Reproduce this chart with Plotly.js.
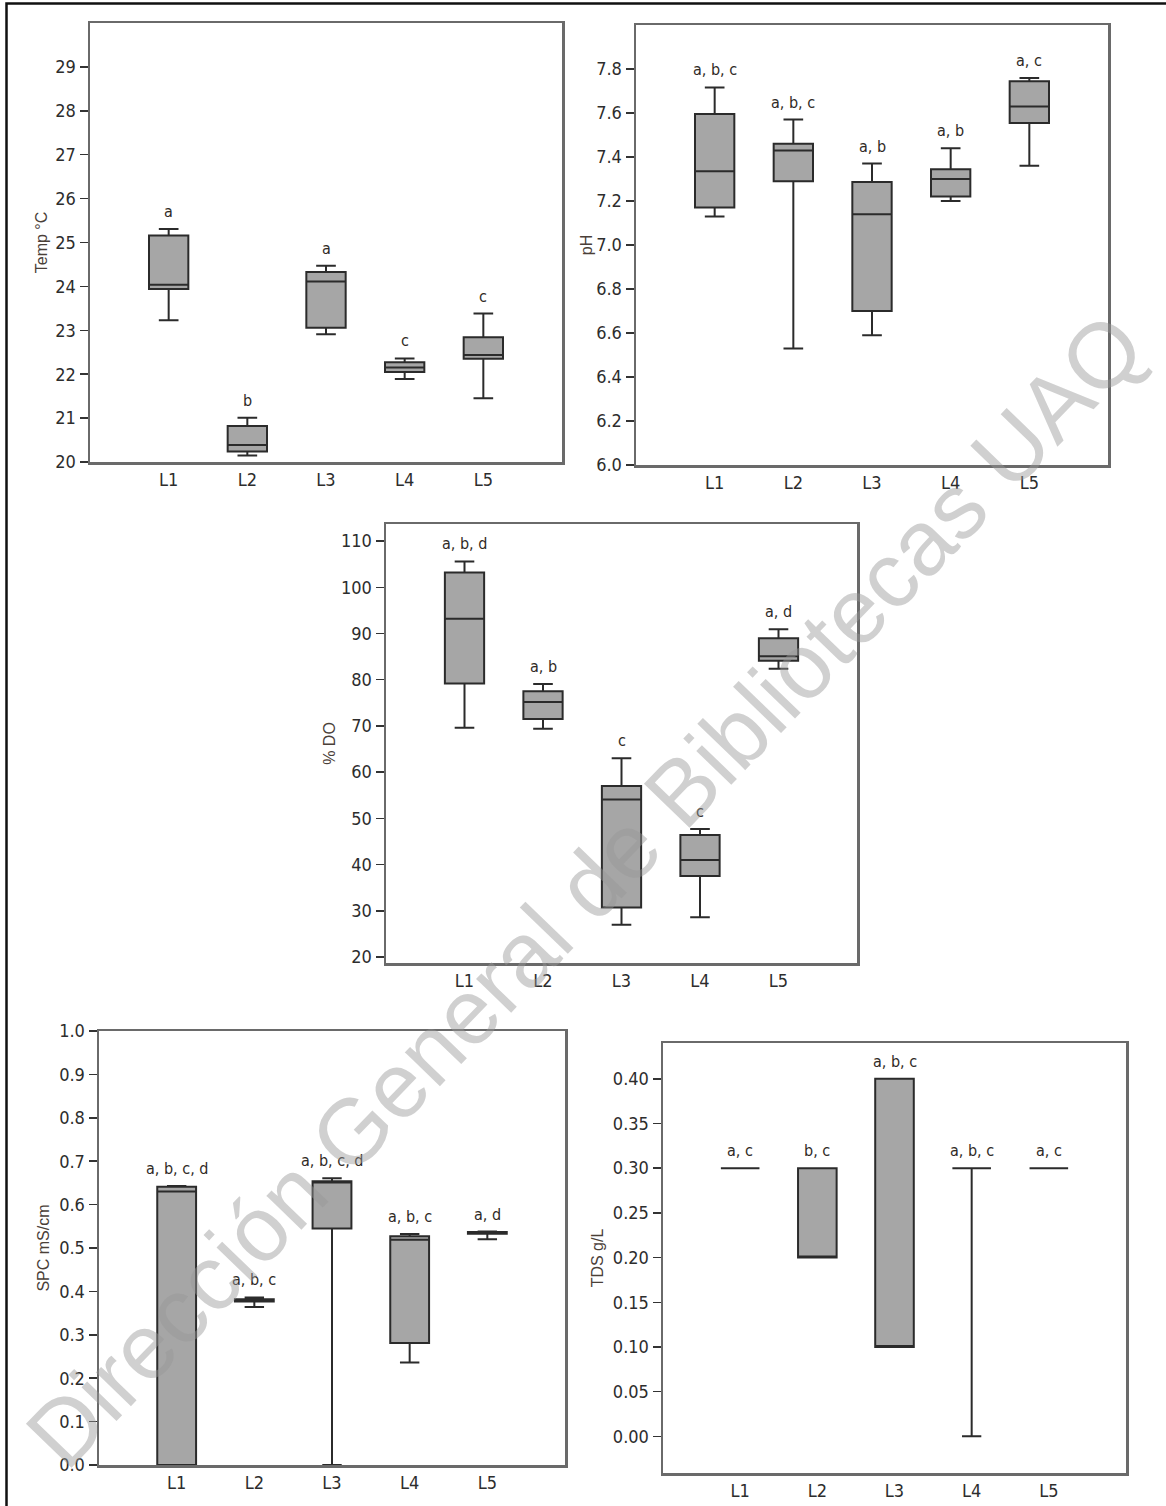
<!DOCTYPE html>
<html>
<head>
<meta charset="utf-8">
<script src="https://cdn.plot.ly/plotly-3.0.1.min.js"></script>
<style>html,body{margin:0;padding:0;background:#fff;}#chart{width:1166px;height:1506px;}</style>
</head>
<body>
<div id="chart"></div>
<script>
// ---- data ----
const cats = ['L1', 'L2', 'L3', 'L4', 'L5'];

const tempLo  = [23.23, 20.15, 22.91, 21.89, 21.45];
const tempQ1  = [23.94, 20.24, 23.06, 22.05, 22.35];
const tempMed = [24.04, 20.39, 24.11, 22.15, 22.44];
const tempQ3  = [25.16, 20.82, 24.33, 22.27, 22.84];
const tempHi  = [25.31, 21.01, 24.47, 22.36, 23.38];
const tempLetters = ['a', 'b', 'a', 'c', 'c'];
const tempTicks = [20, 21, 22, 23, 24, 25, 26, 27, 28, 29];

const phLo  = [7.13, 6.53, 6.59, 7.20, 7.36];
const phQ1  = [7.17, 7.29, 6.70, 7.22, 7.555];
const phMed = [7.335, 7.43, 7.14, 7.30, 7.63];
const phQ3  = [7.595, 7.46, 7.286, 7.344, 7.744];
const phHi  = [7.716, 7.57, 7.37, 7.44, 7.759];
const phLetters = ['a, b, c', 'a, b, c', 'a, b', 'a, b', 'a, c'];
const phTicks = [6.0, 6.2, 6.4, 6.6, 6.8, 7.0, 7.2, 7.4, 7.6, 7.8];

const doLo  = [69.6, 69.4, 27.0, 28.6, 82.4];
const doQ1  = [79.2, 71.5, 30.7, 37.5, 84.1];
const doMed = [93.2, 75.2, 54.1, 41.0, 85.1];
const doQ3  = [103.2, 77.5, 57.0, 46.4, 89.0];
const doHi  = [105.6, 79.1, 63.0, 47.7, 90.9];
const doLetters = ['a, b, d', 'a, b', 'c', 'c', 'a, d'];
const doTicks = [20, 30, 40, 50, 60, 70, 80, 90, 100, 110];

const spcLo  = [0.0, 0.364, 0.0, 0.236, 0.52];
const spcQ1  = [0.0, 0.377, 0.545, 0.281, 0.533];
const spcMed = [0.63, 0.380, 0.651, 0.519, 0.535];
const spcQ3  = [0.641, 0.382, 0.654, 0.527, 0.537];
const spcHi  = [0.643, 0.386, 0.661, 0.532, 0.538];
const spcLetters = ['a, b, c, d', 'a, b, c', 'a, b, c, d', 'a, b, c', 'a, d'];
const spcTicks = [0.0, 0.1, 0.2, 0.3, 0.4, 0.5, 0.6, 0.7, 0.8, 0.9, 1.0];

const tdsLo  = [0.30, 0.20, 0.10, 0.00, 0.30];
const tdsQ1  = [0.30, 0.20, 0.10, 0.30, 0.30];
const tdsMed = [0.30, 0.20, 0.10, 0.30, 0.30];
const tdsQ3  = [0.30, 0.30, 0.40, 0.30, 0.30];
const tdsHi  = [0.30, 0.30, 0.40, 0.30, 0.30];
const tdsLetters = ['a, c', 'b, c', 'a, b, c', 'a, b, c', 'a, c'];
const tdsTicks = [0.00, 0.05, 0.10, 0.15, 0.20, 0.25, 0.30, 0.35, 0.40];

const watermark = 'Dirección General de Bibliotecas UAQ';

// ---- layout helpers ----
const W = 1166, H = 1506;
const NARROW = '"Liberation Sans Narrow", "DejaVu Sans Condensed", "Liberation Sans", Arial, sans-serif';
const REG = '"Liberation Sans", Arial, sans-serif';
const px = v => v / W;
const py = v => 1 - v / H;

const panels = [
  {lo: tempLo, q1: tempQ1, med: tempMed, q3: tempQ3, hi: tempHi, letters: tempLetters, ticks: tempTicks, fmt: v => v.toFixed(0),
   title: 'Temp °C', range: [20, 30], box: [90, 23, 562, 462], standoff: 4},
  {lo: phLo, q1: phQ1, med: phMed, q3: phQ3, hi: phHi, letters: phLetters, ticks: phTicks, fmt: v => v.toFixed(1),
   title: 'pH', range: [6.0, 8.0], box: [636, 25, 1108, 465], standoff: 0},
  {lo: doLo, q1: doQ1, med: doMed, q3: doQ3, hi: doHi, letters: doLetters, ticks: doTicks, fmt: v => v.toFixed(0),
   title: '% DO', range: [18.7, 113.7], box: [386, 524, 857, 963], standoff: 2},
  {lo: spcLo, q1: spcQ1, med: spcMed, q3: spcQ3, hi: spcHi, letters: spcLetters, ticks: spcTicks, fmt: v => v.toFixed(1),
   title: 'SPC mS/cm', range: [0, 1.0], box: [99, 1031, 565, 1465], standoff: 6},
  {lo: tdsLo, q1: tdsQ1, med: tdsMed, q3: tdsQ3, hi: tdsHi, letters: tdsLetters, ticks: tdsTicks, fmt: v => v.toFixed(2),
   title: 'TDS g/L', range: [-0.041, 0.44], box: [663, 1043, 1126, 1473], standoff: 6}
];

const data = [];
const layout = {
  width: W, height: H,
  margin: {l: 0, r: 0, t: 0, b: 0},
  paper_bgcolor: '#ffffff', plot_bgcolor: '#ffffff',
  showlegend: false,
  annotations: [],
  shapes: [
    {type: 'path', xref: 'paper', yref: 'paper',
     path: 'M ' + px(6.5) + ',' + py(1506) + ' L ' + px(6.5) + ',' + py(3.5) + ' L ' + px(1166) + ',' + py(3.5),
     line: {color: '#111', width: 2.5}}
  ]
};

panels.forEach((p, i) => {
  const n = i + 1;
  const xa = 'x' + (n === 1 ? '' : n), ya = 'y' + (n === 1 ? '' : n);
  const xk = 'xaxis' + (n === 1 ? '' : n), yk = 'yaxis' + (n === 1 ? '' : n);
  data.push({
    type: 'box', x: cats, q1: p.q1, median: p.med, q3: p.q3,
    lowerfence: p.lo, upperfence: p.hi,
    xaxis: xa, yaxis: ya,
    width: 0.5, whiskerwidth: 0.5, boxpoints: false,
    fillcolor: '#a6a6a6',
    line: {color: '#2b2b2b', width: 2},
    hoverinfo: 'skip'
  });
  const b = p.box;
  layout[xk] = {
    domain: [px(b[0]), px(b[2])], anchor: ya,
    type: 'category', range: [-1, 5], categoryorder: 'array', categoryarray: cats,
    showline: true, mirror: true, linecolor: '#6a6a6a', linewidth: 2.5,
    showgrid: false, zeroline: false,
    ticks: '',
    tickfont: {family: NARROW, size: 18, color: '#2d2d2d'},
    fixedrange: true
  };
  layout[yk] = {
    domain: [py(b[3]), py(b[1])], anchor: xa,
    range: p.range,
    tickmode: 'array', tickvals: p.ticks, ticktext: p.ticks.map(p.fmt),
    showline: true, mirror: true, linecolor: '#6a6a6a', linewidth: 2.5,
    showgrid: false, zeroline: false,
    ticks: 'outside', ticklen: 8, tickwidth: 1.5, tickcolor: '#333',
    tickfont: {family: NARROW, size: 18, color: '#2d2d2d'},
    title: {text: p.title, standoff: p.standoff, font: {family: REG, size: 16, color: '#4a4038'}},
    fixedrange: true
  };
  cats.forEach((c, k) => {
    layout.annotations.push({
      xref: xa, yref: ya, x: c, y: p.hi[k], text: p.letters[k],
      showarrow: false, yanchor: 'bottom', yshift: 6,
      font: {family: NARROW, size: 16, color: '#2f2a25'}
    });
  });
});

layout.annotations.push({
  xref: 'paper', yref: 'paper', x: px(585), y: py(890),
  text: watermark, showarrow: false, textangle: -46,
  xanchor: 'center', yanchor: 'middle',
  font: {family: REG, size: 92, color: 'rgba(150,150,150,0.45)'}
});

Plotly.newPlot('chart', data, layout, {staticPlot: true, displayModeBar: false});
</script>
</body>
</html>
